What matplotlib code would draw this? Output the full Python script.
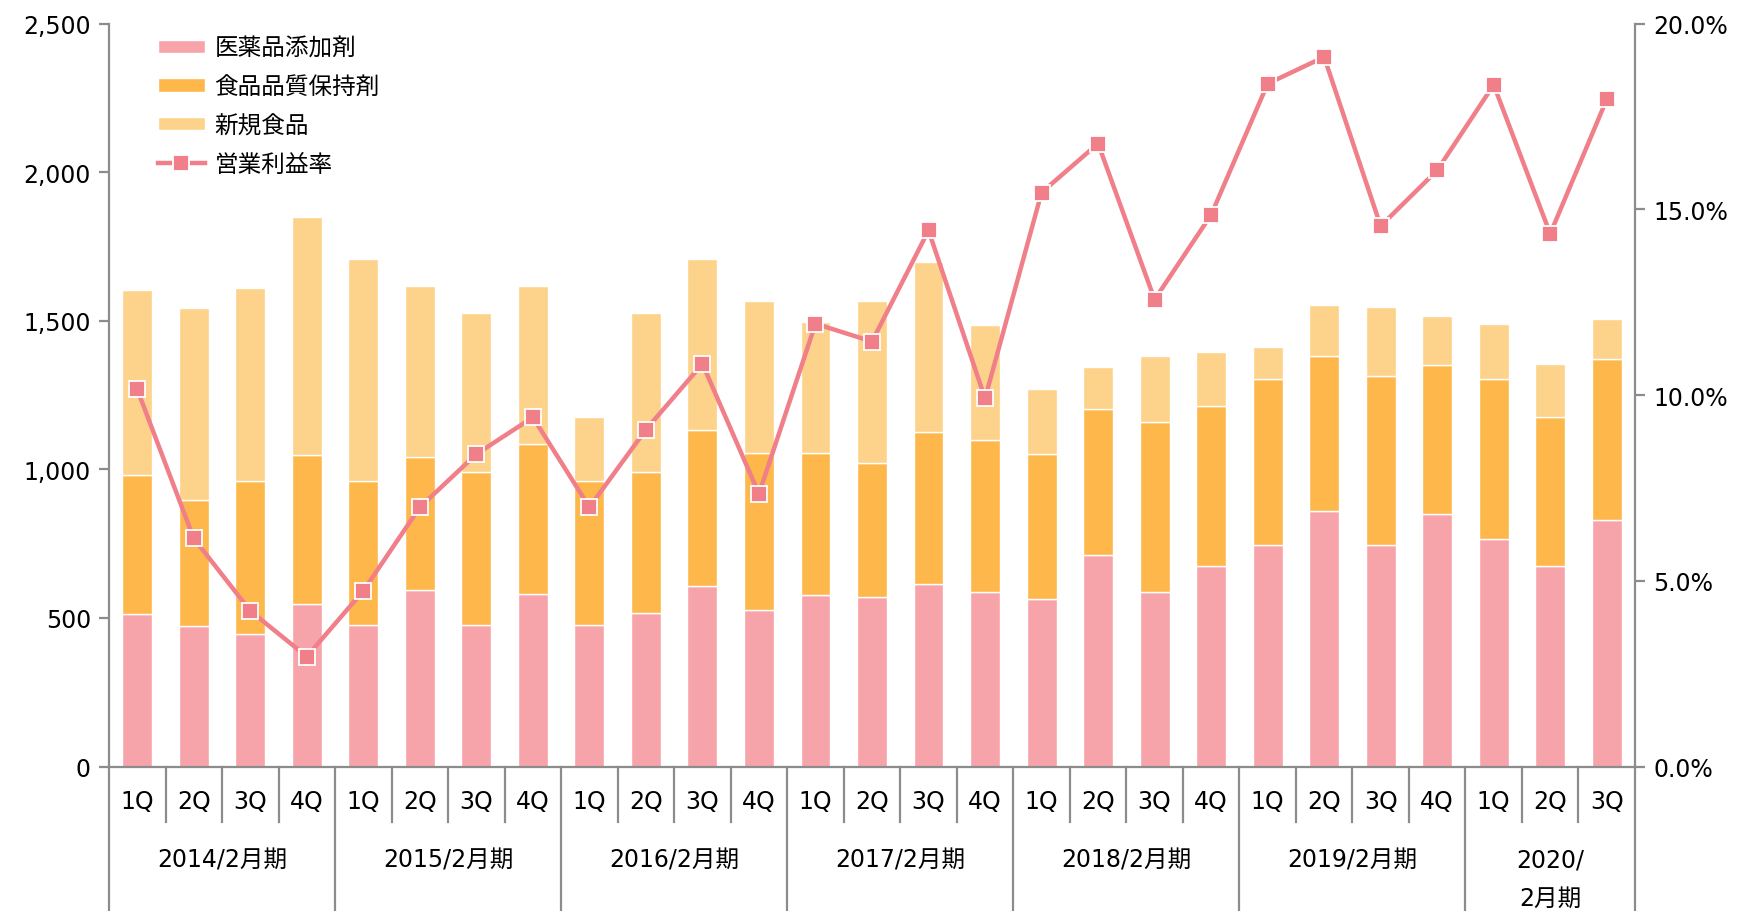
import matplotlib
matplotlib.use("Agg")
import matplotlib.pyplot as plt
import matplotlib.transforms as mtransforms
from matplotlib.ticker import FuncFormatter
import numpy as np

plt.rcParams['font.family'] = ['DejaVu Sans', 'Noto Sans CJK JP']

# data
years = ["2014/2月期", "2015/2月期", "2016/2月期", "2017/2月期",
         "2018/2月期", "2019/2月期", "2020/\n2月期"]
quarters = ["1Q", "2Q", "3Q", "4Q"] * 6 + ["1Q", "2Q", "3Q"]
group_sizes = [4, 4, 4, 4, 4, 4, 3]

pharma = [512, 472, 445, 546, 475, 595, 477, 580,
          477, 516, 606, 528, 576, 569, 614, 588,
          563, 711, 588, 674, 745, 861, 745, 850,
          764, 674, 831]
pharma_food = [981, 898, 962, 1048, 962, 1040, 992, 1085,
               962, 992, 1134, 1055, 1055, 1022, 1127, 1100,
               1052, 1202, 1160, 1213, 1303, 1381, 1314, 1351,
               1303, 1175, 1370]
total = [1602, 1542, 1609, 1849, 1707, 1617, 1527, 1617,
         1175, 1527, 1707, 1565, 1497, 1565, 1696, 1486,
         1269, 1344, 1381, 1396, 1411, 1553, 1546, 1516,
         1490, 1355, 1505]
op_margin = [10.15, 6.14, 4.19, 2.96, 4.73, 6.98, 8.41, 9.40,
             6.98, 9.07, 10.84, 7.34, 11.92, 11.44, 14.43, 9.91,
             15.45, 16.77, 12.57, 14.85, 18.38, 19.10, 14.55, 16.05,
             18.35, 14.34, 17.96]

food_keep = np.array(pharma_food) - np.array(pharma)
new_food = np.array(total) - np.array(pharma_food)

c_pink = '#F7A3AA'
c_orange = '#FDB74A'
c_light = '#FDD28A'
c_line = '#F07F89'
c_axis = '#8C8C8C'
fs = 17

fig = plt.figure(figsize=(17.44, 9.12), dpi=100)
ax = fig.add_axes([0.0625, 0.1584, 0.875, 0.8147])
ax2 = ax.twinx()

x = np.arange(len(quarters))
w = 0.53
b1 = ax.bar(x, pharma, w, color=c_pink, edgecolor='white', linewidth=1, label='医薬品添加剤')
b2 = ax.bar(x, food_keep, w, bottom=pharma, color=c_orange, edgecolor='white',
            linewidth=1, label='食品品質保持剤')
b3 = ax.bar(x, new_food, w, bottom=pharma_food, color=c_light, edgecolor='white',
            linewidth=1, label='新規食品')

ln, = ax2.plot(x, op_margin, color=c_line, lw=3.2, marker='s', markersize=11,
               markerfacecolor=c_line, markeredgecolor='white', markeredgewidth=1.3,
               label='営業利益率')

ax.set_xlim(-0.5, len(quarters) - 0.5)
ax.set_ylim(0, 2500)
ax.set_yticks(np.arange(0, 2501, 500))
ax.yaxis.set_major_formatter(FuncFormatter(lambda v, p: "{:,}".format(int(v))))
ax2.set_ylim(0, 20)
ax2.set_yticks(np.arange(0, 20.1, 5))
ax2.yaxis.set_major_formatter(FuncFormatter(lambda v, p: "{:.1f}%".format(v)))

for a in (ax, ax2):
    a.spines['top'].set_visible(False)
    for s in ('left', 'right', 'bottom'):
        a.spines[s].set_color(c_axis)
        a.spines[s].set_linewidth(1.6)
    a.tick_params(axis='y', labelsize=fs, color=c_axis, width=1.6, length=7, pad=6)
ax.spines['right'].set_visible(False)
ax2.spines['left'].set_visible(False)
ax2.spines['bottom'].set_visible(False)
ax.set_xticks([])

# category labels below the axis
trans = mtransforms.blended_transform_factory(ax.transData, ax.transAxes)
q_y = -0.046
year_y = -0.125
div_q = -0.075
for i, q in enumerate(quarters):
    ax.text(i, q_y, q, transform=trans, ha='center', va='center', fontsize=fs)

edges = np.concatenate([[0], np.cumsum(group_sizes)]) - 0.5
for i in range(len(quarters) + 1):
    xe = i - 0.5
    if xe in edges:
        ax.plot([xe, xe], [0, -0.21], transform=trans, color=c_axis, lw=1.6, clip_on=False)
    else:
        ax.plot([xe, xe], [0, div_q], transform=trans, color=c_axis, lw=1.6, clip_on=False)

for k, yl in enumerate(years):
    xc = (edges[k] + edges[k + 1]) / 2
    if "\n" in yl:
        top, bottom = yl.split("\n")
        ax.text(xc, year_y, top, transform=trans, ha='center', va='center', fontsize=fs)
        ax.text(xc, year_y - 0.052, bottom, transform=trans, ha='center', va='center', fontsize=fs)
    else:
        ax.text(xc, year_y, yl, transform=trans, ha='center', va='center', fontsize=fs)

leg = ax2.legend([b1, b2, b3, ln], [b1.get_label(), b2.get_label(), b3.get_label(), ln.get_label()],
                 loc='upper left', bbox_to_anchor=(0.018, 1.012), frameon=False, fontsize=fs,
                 handlelength=2.0, handleheight=0.5, labelspacing=0.62, handletextpad=0.4)

fig.savefig("out.png", dpi=100)
